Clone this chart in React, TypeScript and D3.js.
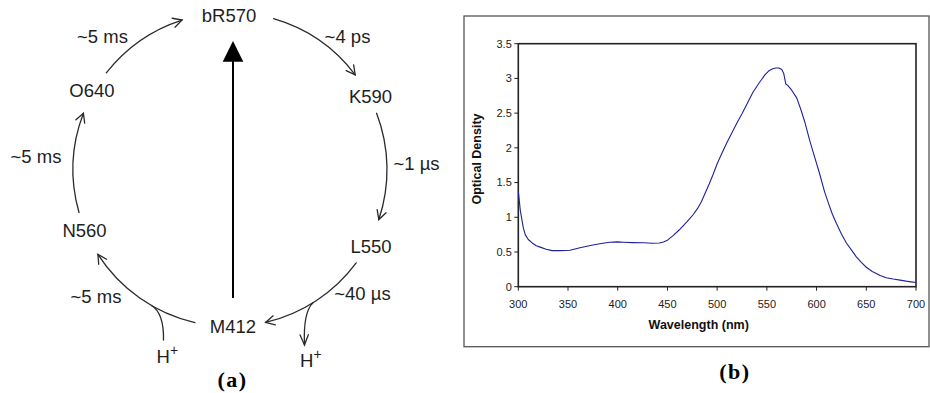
import React from "react";
import * as d3 from "d3";

// ---------- Spectrum data (panel b) ----------
const wavelengths = [300, 302, 305, 307, 310, 314, 318, 322, 328, 334, 342, 352, 362, 375, 385, 392, 400, 406, 415, 426, 435, 442, 446, 450, 456, 462, 470, 476, 480, 484, 488, 492, 496, 500, 505, 510, 515, 520, 525, 530, 536, 542, 548, 552, 556, 559, 562, 565, 567, 569, 571, 575, 580, 584, 588, 593, 598, 603, 608, 612, 616, 620, 625, 630, 635, 640, 645, 650, 656, 664, 670, 677, 684, 690, 695, 700];
const opticalDensity = [1.38, 1.1, 0.85, 0.75, 0.68, 0.63, 0.59, 0.57, 0.54, 0.52, 0.52, 0.525, 0.56, 0.6, 0.625, 0.64, 0.645, 0.64, 0.635, 0.632, 0.625, 0.63, 0.645, 0.67, 0.74, 0.82, 0.94, 1.04, 1.12, 1.22, 1.35, 1.48, 1.62, 1.77, 1.93, 2.08, 2.22, 2.36, 2.49, 2.63, 2.8, 2.93, 3.05, 3.11, 3.14, 3.15, 3.15, 3.13, 3.07, 2.92, 2.9, 2.83, 2.72, 2.56, 2.38, 2.11, 1.87, 1.63, 1.37, 1.2, 1.04, 0.91, 0.76, 0.63, 0.53, 0.43, 0.35, 0.28, 0.22, 0.16, 0.13, 0.11, 0.095, 0.08, 0.07, 0.06];
const xTicks = [300, 350, 400, 450, 500, 550, 600, 650, 700];
const yTicks = [0, 0.5, 1, 1.5, 2, 2.5, 3, 3.5];
const xTitle = "Wavelength (nm)";
const yTitle = "Optical Density";

// ---------- Photocycle (panel a) ----------
const states = ["bR570", "K590", "L550", "M412", "N560", "O640"];
const stateLabelPos = [
  [229, 22], [370.5, 103.3], [371, 253.3], [233, 333.3], [84.5, 236.7], [92, 96.7],
];
const transitionTimes = ["~4 ps", "~1 µs", "~40 µs", "~5 ms", "~5 ms", "~5 ms"];
const timeLabelPos = [
  [347.5, 42.7], [416.5, 170], [362.5, 300], [96, 303.3], [36, 163.3], [102.5, 43.3],
];
// arc start / end angles in degrees (clockwise from +x)
const arcStart = [-73.9, -21.0, 36.5, 102.9, 164.1, 218.0];
const arcEnd = [-37.1, 18.6, 76.9, 147.3, 201.0, 252.2];

const W = 930;
const H = 393;

export default function App() {
  // ----- panel b geometry -----
  const plotL = 518.3, plotR = 916, plotT = 43.7, plotB = 286.7;
  const x = d3.scaleLinear().domain([300, 700]).range([plotL, plotR]);
  const y = d3.scaleLinear().domain([0, 3.5]).range([plotB, plotT]);
  const line = d3
    .line<number>()
    .x((_, i) => x(wavelengths[i]))
    .y((d) => y(d));
  const specPath = line(opticalDensity) || "";

  // ----- panel a geometry -----
  const cx = 230, cy = 169.5, r = 157;
  const rad = (deg: number) => (deg * Math.PI) / 180;
  const pt = (deg: number) => [cx + r * Math.cos(rad(deg)), cy + r * Math.sin(rad(deg))];

  const chevron = (tipX: number, tipY: number, dirX: number, dirY: number, len = 10, spread = 28) => {
    const ang = Math.atan2(dirY, dirX);
    const a1 = ang + Math.PI - rad(spread);
    const a2 = ang + Math.PI + rad(spread);
    const p = d3.path();
    p.moveTo(tipX + len * Math.cos(a1), tipY + len * Math.sin(a1));
    p.lineTo(tipX, tipY);
    p.lineTo(tipX + len * Math.cos(a2), tipY + len * Math.sin(a2));
    return p.toString();
  };

  const arcs = arcStart.map((a0, i) => {
    const a1 = arcEnd[i];
    const p = d3.path();
    const [sx, sy] = pt(a0);
    p.moveTo(sx, sy);
    p.arc(cx, cy, r, rad(a0), rad(a1), false);
    const [ex, ey] = pt(a1);
    const tdx = -Math.sin(rad(a1));
    const tdy = Math.cos(rad(a1));
    return { d: p.toString(), head: chevron(ex, ey, tdx, tdy) };
  });

  // proton branches
  const [rbx, rby] = pt(58);
  const rBranch = d3.path();
  rBranch.moveTo(rbx, rby);
  rBranch.quadraticCurveTo(303, 312, 304.5, 345);
  const rHead = chevron(304.5, 345, 0.03, 1, 11, 22);

  const [lbx, lby] = pt(120);
  const lBranch = d3.path();
  lBranch.moveTo(163.5, 340);
  lBranch.quadraticCurveTo(164, 313, lbx, lby);

  const sans = "'Liberation Sans', Arial, Helvetica, sans-serif";
  const serif = "'Liberation Serif', 'Times New Roman', serif";
  const ink = "#1e1e1e";
  const arcStroke = "#2a2a2a";

  return (
    <svg
      width={W}
      height={H}
      viewBox={`0 0 ${W} ${H}`}
      style={{ position: "absolute", left: 0, top: 0, background: "#fff" }}
    >
      <rect x={0} y={0} width={W} height={H} fill="#fff" />

      {/* ================= Panel (a) ================= */}
      <g fill="none" stroke={arcStroke} strokeWidth={1.3} strokeLinecap="round">
        {arcs.map((a, i) => (
          <g key={i}>
            <path d={a.d} />
            <path d={a.head} />
          </g>
        ))}
        <path d={rBranch.toString()} />
        <path d={rHead} />
        <path d={lBranch.toString()} />
      </g>

      {/* light-driven vertical arrow */}
      <line x1={233} y1={298} x2={233} y2={60} stroke="#000" strokeWidth={2} />
      <path d={`M233,41 L243.3,61.7 L222.7,61.7 Z`} fill="#000" />

      <g fontFamily={sans} fontSize={18.5} fill={ink}>
        {states.map((s, i) => (
          <text key={s} x={stateLabelPos[i][0]} y={stateLabelPos[i][1]} textAnchor="middle">
            {s}
          </text>
        ))}
        {transitionTimes.map((t, i) => (
          <text key={i} x={timeLabelPos[i][0]} y={timeLabelPos[i][1]} textAnchor="middle">
            {t}
          </text>
        ))}
        <text x={156.5} y={363}>
          H<tspan fontSize={14} dy={-8}>+</tspan>
        </text>
        <text x={300} y={367}>
          H<tspan fontSize={14} dy={-8}>+</tspan>
        </text>
      </g>

      <text
        x={232.5}
        y={387}
        textAnchor="middle"
        fontFamily={serif}
        fontWeight="bold"
        fontSize={22}
        letterSpacing={1.5}
        fill="#000"
      >
        (a)
      </text>

      {/* ================= Panel (b) ================= */}
      <rect x={464} y={16} width={465} height={330.7} fill="none" stroke="#555" strokeWidth={1.3} />
      <rect
        x={plotL}
        y={plotT}
        width={plotR - plotL}
        height={plotB - plotT}
        fill="none"
        stroke="#222"
        strokeWidth={1.6}
      />

      {/* y ticks */}
      <g fontFamily={sans} fontSize={11} fill="#222">
        {yTicks.map((t) => (
          <g key={t}>
            <line x1={plotL - 4} x2={plotL} y1={y(t)} y2={y(t)} stroke="#222" strokeWidth={1} />
            <text x={plotL - 6.5} y={y(t)} dy="0.35em" textAnchor="end">
              {String(t)}
            </text>
          </g>
        ))}
        {xTicks.map((t) => (
          <g key={t}>
            <line x1={x(t)} x2={x(t)} y1={plotB} y2={plotB + 4} stroke="#222" strokeWidth={1} />
            <text x={x(t)} y={307.5} textAnchor="middle">
              {String(t)}
            </text>
          </g>
        ))}
      </g>

      <path d={specPath} fill="none" stroke="#20209a" strokeWidth={1.1} strokeLinejoin="round" />

      <text
        x={698.7}
        y={329}
        textAnchor="middle"
        fontFamily={sans}
        fontWeight="bold"
        fontSize={12.5}
        fill="#111"
      >
        {xTitle}
      </text>
      <text
        transform={`translate(481,159) rotate(-90)`}
        textAnchor="middle"
        fontFamily={sans}
        fontWeight="bold"
        fontSize={12.5}
        fill="#111"
      >
        {yTitle}
      </text>

      <text
        x={735}
        y={378.5}
        textAnchor="middle"
        fontFamily={serif}
        fontWeight="bold"
        fontSize={22}
        letterSpacing={1.5}
        fill="#000"
      >
        (b)
      </text>
    </svg>
  );
}
